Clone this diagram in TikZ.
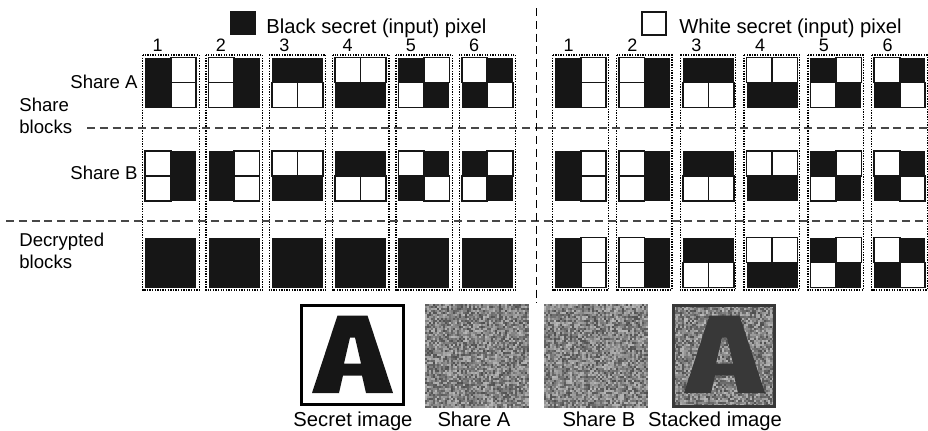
\documentclass[tikz,border=0pt]{standalone}
\usepackage{fontspec}
\setmainfont{Liberation Sans}
\usepackage{xcolor}
\usepackage{tikz}
\usetikzlibrary{positioning}

\definecolor{pixblack}{HTML}{161616}
\definecolor{sepgray}{HTML}{474747}
\definecolor{stackgray}{HTML}{383838}

% 一个 2x2 分享块：#1,#2 左上角，#3 子像素（左上,右上,左下,右下；1 为黑）
\newcommand{\shareblock}[3]{%
  \fill[pixblack] (#1,#2) rectangle ++(51,50);
  \foreach \pv [count=\k from 0] in #3 {%
    \ifnum\pv=0
      \pgfmathsetmacro{\cx}{#1+mod(\k,2)*25.5}%
      \pgfmathsetmacro{\cy}{#2+int(\k/2)*25}%
      \draw[subpix] (\cx,\cy) rectangle ++(25.5,25);
    \fi
  }%
}

% 一行六个分享块
\newcommand{\blockrow}[4]{%
  \foreach \pat [count=\i from 0] in {#4} {%
    \shareblock{#1+\i*#2}{#3}{\pat}%
  }%
}

% 随机噪声图
\newcommand{\noisebox}[2]{%
  \foreach \ncol in {0,...,51} {%
    \foreach \nrow in {0,...,51} {%
      \pgfmathtruncatemacro{\g}{28+42*rnd}%
      \fill[black!\g] (#1+\ncol*2,#2+\nrow*2) rectangle ++(2.1,2.1);
    }%
  }%
}

\begin{document}
\begin{tikzpicture}[
    x=0.5pt, y=-0.5pt,
    colbox/.style={draw=black, line width=0.65pt, dash pattern=on 0.65pt off 0.65pt},
    sepline/.style={draw=sepgray, line width=0.6pt, dash pattern=on 4pt off 2.4pt},
    subpix/.style={fill=white, draw=pixblack, line width=0.8pt},
    lbl/.style={font=\fontsize{9.3}{10.85}\selectfont, inner sep=0pt, align=left},
    captext/.style={font=\fontsize{10.1}{12}\selectfont, inner sep=0pt},
    num/.style={font=\fontsize{9}{10}\selectfont, inner sep=0pt},
    letterA/.pic={
      \path[pic actions, even odd rule]
        (12,89) -- (37.5,11.5) -- (67.5,11.5) -- (93,89) -- (66,89)
        -- (62,71.5) -- (43,71.5) -- (39,89) -- cycle
        (44,59.5) -- (50,33.5) -- (55,33.5) -- (61,59.5) -- cycle;
    }
]
    \useasboundingbox (0,0) rectangle (928,430);
    \pgfmathsetseed{17}

    % 参数
    \def\xl{142.7} \def\pl{63.3}
    \def\xr{552.7} \def\pr{63.8}
    \def\ya{57.5} \def\yb{151} \def\yd{237.5}

    % 图例
    \fill[pixblack] (230,11) rectangle (256,35);
    \node[captext, anchor=base west] (blackkey) at (266,33.5) {Black secret (input) pixel};
    \draw[pixblack, line width=0.75pt] (642,12) rectangle (666,35);
    \node[captext, anchor=base west] (whitekey) at (679,33.5) {White secret (input) pixel};

    % 列框和编号
    \foreach \i in {0,...,5} {
        \draw[colbox] (\xl+\i*\pl,55) rectangle ++(56.5,235);
        \draw[colbox] (\xr+\i*\pr,55) rectangle ++(55.5,235);
        \pgfmathtruncatemacro{\colno}{\i+1}
        \node[num, anchor=base] (bn\colno) at (\xl+\i*\pl+15,51.7) {\colno};
        \node[num, anchor=base] (wn\colno) at (\xr+\i*\pr+16,51.7) {\colno};
    }

    % 分隔线
    \draw[sepline] (87,128) -- (928,128);
    \draw[sepline] (6,221) -- (928,221);
    \draw[sepline, black] (536.5,8) -- (536.5,303);

    % 左侧标签
    \node[lbl, anchor=base east] (shA) at (138,88.3) {Share A};
    \node[lbl, anchor=west] (shblk) at (19,116) {Share\\blocks};
    \node[lbl, anchor=base east] (shB) at (138,179) {Share B};
    \node[lbl, anchor=west] (decblk) at (19,250.6) {Decrypted\\blocks};

    % 黑色秘密像素
    \blockrow{\xl+2.5}{\pl}{\ya}{{1,0,1,0},{0,1,0,1},{1,1,0,0},{0,0,1,1},{1,0,0,1},{0,1,1,0}}
    \blockrow{\xl+2.5}{\pl}{\yb}{{0,1,0,1},{1,0,1,0},{0,0,1,1},{1,1,0,0},{0,1,1,0},{1,0,0,1}}
    \blockrow{\xl+2.5}{\pl}{\yd}{{1,1,1,1},{1,1,1,1},{1,1,1,1},{1,1,1,1},{1,1,1,1},{1,1,1,1}}

    % 白色秘密像素
    \foreach \yy in {\ya,\yb,\yd} {
        \blockrow{\xr+2.5}{\pr}{\yy}{{1,0,1,0},{0,1,0,1},{1,1,0,0},{0,0,1,1},{1,0,0,1},{0,1,1,0}}
    }

    % 底部图像
    \draw[black, line width=1.5pt] (301.5,305.5) rectangle (403,404.5);
    \pic[fill=pixblack] at (300,304) {letterA};
    \noisebox{425}{303.5}
    \noisebox{544}{303.5}
    \noisebox{672}{303.5}
    \pic[fill=stackgray] at (672,304) {letterA};
    \draw[stackgray, line width=1.5pt] (673.5,305) rectangle (774.5,406);

    \node[captext, anchor=base] (secret) at (353,426.7) {Secret image};
    \node[captext, anchor=base] (shareA) at (474,426.7) {Share A};
    \node[captext, anchor=base] (shareB) at (599,426.7) {Share B};
    \node[captext, anchor=base] (stacked) at (715,426.7) {Stacked image};
\end{tikzpicture}
\end{document}
